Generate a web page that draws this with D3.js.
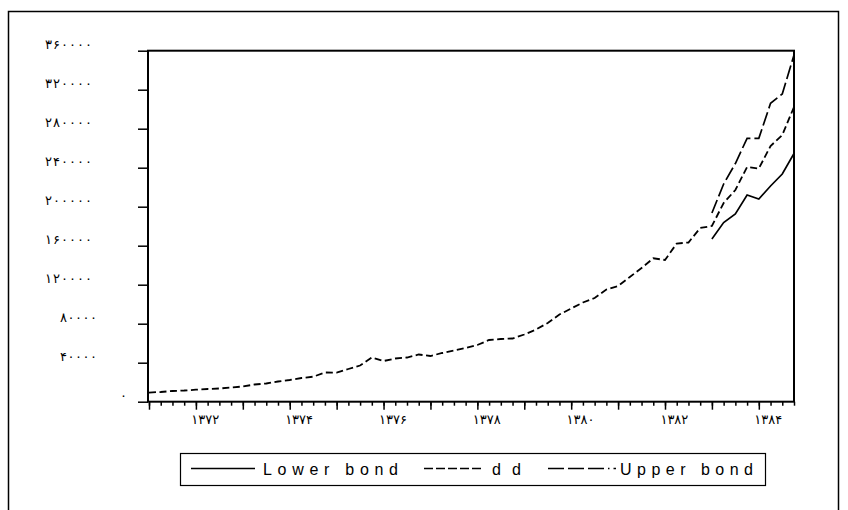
<!DOCTYPE html>
<html><head><meta charset="utf-8">
<script src="https://cdn.jsdelivr.net/npm/d3@7"></script>
<style>body{margin:0;background:#fff}svg{display:block}</style>
</head><body><svg id="c" width="848" height="510"></svg>
<script>
// ---- data (quarterly, starting 1371 Q1) ----
const startYear = 1371;
const quarterCount = 56;
const dd = [9400, 9950, 10970, 11490, 12310, 13030, 13540, 14560,
  15590, 17640, 18670, 20720, 22260, 24310, 25640, 29950,
  29740, 33540, 37130, 45330, 41740, 44310, 45330, 48410,
  46870, 49950, 52510, 55070, 58150, 63280, 64300, 64820,
  68920, 74050, 80710, 89430, 95590, 101740, 106350, 115070,
  118660, 127890, 137120, 147070, 145330, 162250, 163270, 178150,
  180200, 203790, 217120, 240710, 239170, 262250, 273530, 302240];
const boundStart = 48; // 1383 Q1
const lowerBond = [166870, 183790, 192500, 211990, 207890, 221220, 233530, 254550];
const upperBond = [193530, 223270, 244300, 270140, 270140, 306040, 315580, 355580];
const yTicks = [0, 40000, 80000, 120000, 160000, 200000, 240000, 280000, 320000, 360000];
const xLabelYears = [1372, 1374, 1376, 1378, 1380, 1382, 1384];
const seriesNames = ["Lower bond", "dd", "Upper bond"];

const toFa = n => String(n).replace(/\d/g, d => "۰۱۲۳۴۵۶۷۸۹"[+d]);

const svg = d3.select("#c");
const L = 148, R = 794, T = 50.7, B = 401.7;

const x = d3.scaleLinear().domain([0, quarterCount - 1]).range([L + 1, R]);
const y = d3.scaleLinear().domain([0, 360000]).range([B, T]);

// outer frame
svg.append("rect").attr("x", 8.5).attr("y", 11.5).attr("width", 830).attr("height", 530)
  .attr("fill", "none").attr("stroke", "#000").attr("stroke-width", 1.5);

// y axis
const gy = svg.append("g").attr("transform", `translate(${L},0)`)
  .call(d3.axisLeft(y).tickValues(yTicks).tickSize(10).tickPadding(0).tickFormat(toFa));
gy.select(".domain").remove();
gy.selectAll(".tick line").attr("stroke-width", 1.5);
gy.selectAll(".tick text")
  .attr("font-family", "DejaVu Sans").attr("font-size", 13).attr("fill", "#000")
  .attr("text-anchor", "start")
  .attr("dy", 0).attr("y", -2.5)
  .attr("x", d => (135 - 15 * toFa(d).length) - L)
  .each(function(d) {
    const n = toFa(d).length;
    if (n > 1) d3.select(this).attr("textLength", 10 * n - 13).attr("lengthAdjust", "spacing");
  });

// x axis: minor (quarter) and major (year) ticks
const gxMinor = svg.append("g").attr("transform", `translate(0,${B})`)
  .call(d3.axisBottom(x).tickValues(d3.range(0, quarterCount)).tickSize(4).tickFormat(""));
gxMinor.select(".domain").remove();
gxMinor.selectAll(".tick line").attr("stroke-width", 1.5);
const gxMajor = svg.append("g").attr("transform", `translate(0,${B})`)
  .call(d3.axisBottom(x).tickValues(d3.range(0, quarterCount, 4)).tickSize(8).tickFormat(""));
gxMajor.select(".domain").remove();
gxMajor.selectAll(".tick line").attr("stroke-width", 1.5);

svg.append("g").selectAll("text").data(xLabelYears).join("text")
  .attr("x", d => x((d - startYear) * 4 + 0.8))
  .attr("y", B + 22)
  .attr("text-anchor", "middle")
  .attr("font-family", "DejaVu Sans").attr("font-size", 13).attr("fill", "#000")
  .attr("letter-spacing", 0.3)
  .text(d => toFa(d));

// plot box
svg.append("rect").attr("x", L).attr("y", T).attr("width", R - L).attr("height", B - T)
  .attr("fill", "none").attr("stroke", "#000").attr("stroke-width", 2);

// lines
const line = d3.line().x(d => x(d[0])).y(d => y(d[1]));
const ddPts = dd.map((v, i) => [i, v]);
const lowPts = lowerBond.map((v, i) => [boundStart + i, v]);
const upPts = upperBond.map((v, i) => [boundStart + i, v]);

const styles = [
  {dash: null, legendDash: null},
  {dash: "7,3.5", legendDash: "9,3"},
  {dash: "14,4", legendDash: "16,4,16,4,16,4,1.5,4"}
];

svg.append("path").attr("d", line(lowPts)).attr("fill", "none").attr("stroke", "#000").attr("stroke-width", 1.7);
svg.append("path").attr("d", line(ddPts)).attr("fill", "none").attr("stroke", "#000").attr("stroke-width", 1.8)
  .attr("stroke-dasharray", styles[1].dash);
svg.append("path").attr("d", line(upPts)).attr("fill", "none").attr("stroke", "#000").attr("stroke-width", 1.7)
  .attr("stroke-dasharray", styles[2].dash);

// legend
const lg = svg.append("g");
lg.append("rect").attr("x", 180.5).attr("y", 453.5).attr("width", 585).attr("height", 32)
  .attr("fill", "#fff").attr("stroke", "#000").attr("stroke-width", 1.2);
const legendItems = [
  {x1: 191, x2: 255, tx: 263, tw: 135},
  {x1: 424, x2: 484, tx: 492, tw: 29},
  {x1: 548, x2: 616, tx: 620, tw: 133}
];
legendItems.forEach((it, k) => {
  lg.append("line").attr("x1", it.x1).attr("x2", it.x2).attr("y1", 468.5).attr("y2", 468.5)
    .attr("stroke", "#000").attr("stroke-width", 1.3)
    .attr("stroke-dasharray", styles[k].legendDash);
  lg.append("text").attr("x", it.tx).attr("y", 474.5)
    .attr("font-family", "Liberation Sans, Arial, sans-serif").attr("font-size", 16).attr("fill", "#000")
    .attr("textLength", it.tw).attr("lengthAdjust", "spacing")
    .text(seriesNames[k]);
});
</script>
</body></html>
